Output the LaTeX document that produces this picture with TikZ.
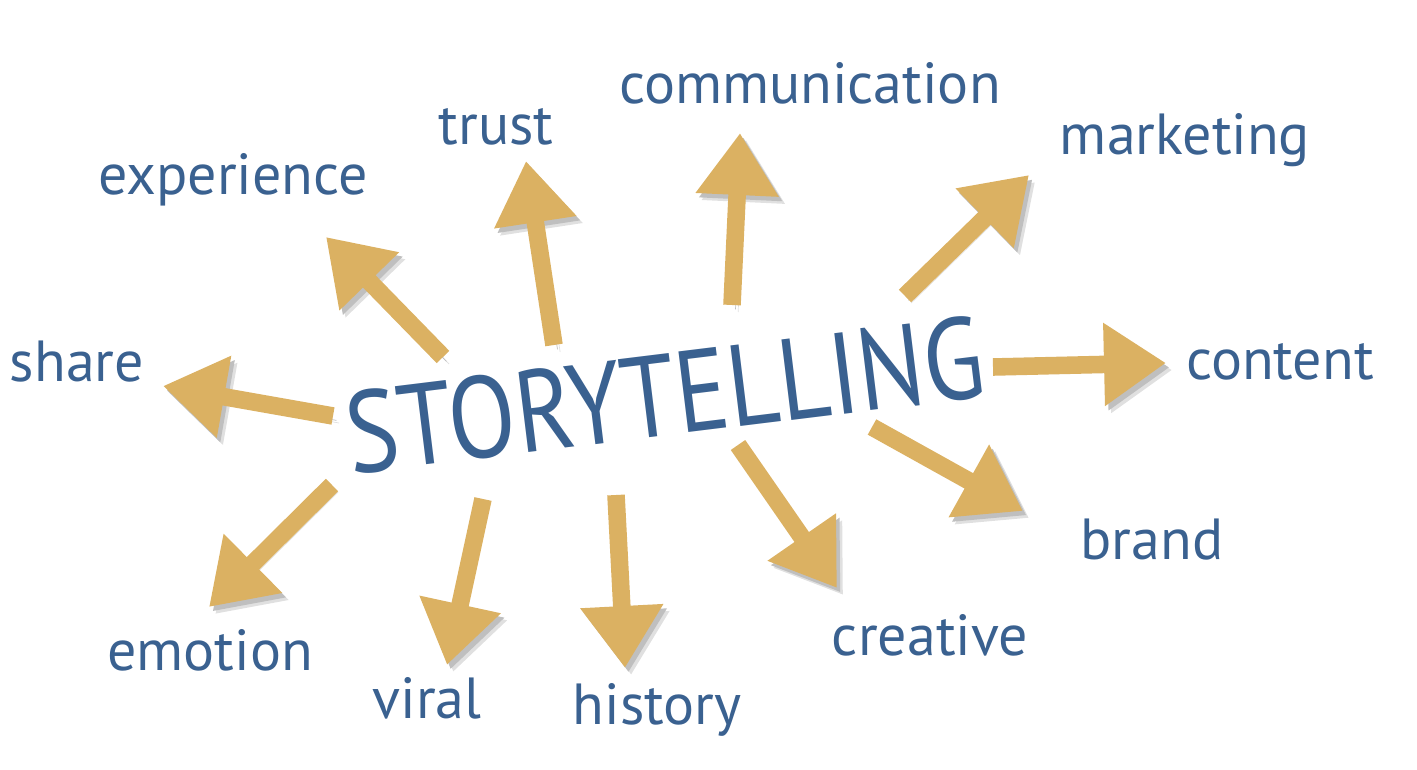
\documentclass[tikz,border=0pt]{standalone}
\usepackage{fontspec}
\setmainfont{PT Sans}
\usetikzlibrary{arrows.meta}
\definecolor{storyblue}{HTML}{3A6190}
\definecolor{arrowgold}{HTML}{DBB162}
\tikzset{
  word/.style={text=storyblue, font=\fontsize{33}{37}\selectfont, inner sep=0pt},
  bigarrow/.style={draw=arrowgold, line width=10pt,
    -{Triangle[length=1.24cm, width=1.58cm]},
    preaction={draw=black!12, transform canvas={shift={(3.5pt,-4pt)}}},
    preaction={draw=black!25, transform canvas={shift={(2pt,-2.5pt)}}}}
}
\begin{document}
\begin{tikzpicture}[x=0.02cm, y=-0.02cm]
	\useasboundingbox (0,0) rectangle (1417,770);
	%\draw[gray!20](0,0)grid[step=50](1417,770);
	\node[word, rotate=7, xscale=0.85, font=\fontsize{66}{70}\selectfont] (story) at (665,395) {STORYTELLING};
	\node[word] (share) at (77,362) {share};
	\node[word] (experience) at (233,180) {experience};
	\node[word] (trust) at (496,127) {trust};
	\node[word] (communication) at (810,83) {communication};
	\node[word] (marketing) at (1185,140) {marketing};
	\node[word] (content) at (1280,362) {content};
	\node[word] (brand) at (1152,540) {brand};
	\node[word] (creative) at (930,635) {creative};
	\node[word] (history) at (657,710) {history};
	\node[word] (viral) at (427,698) {viral};
	\node[word] (emotion) at (210,650) {emotion};
	% arrow ends
	\coordinate (share-a) at (333,416);       \coordinate (share-b) at (163,386);
	\coordinate (experience-a) at (443,357);  \coordinate (experience-b) at (326,237);
	\coordinate (trust-a) at (554,345);       \coordinate (trust-b) at (526,161);
	\coordinate (communication-a) at (732,305); \coordinate (communication-b) at (740,133);
	\coordinate (marketing-a) at (905,296);   \coordinate (marketing-b) at (1029,175);
	\coordinate (content-a) at (993,367);     \coordinate (content-b) at (1166,363);
	\coordinate (brand-a) at (872,427);       \coordinate (brand-b) at (1023,511);
	\coordinate (creative-a) at (738,445);    \coordinate (creative-b) at (837,588);
	\coordinate (history-a) at (616,495);     \coordinate (history-b) at (625,668);
	\coordinate (viral-a) at (483,499);       \coordinate (viral-b) at (447,665);
	\coordinate (emotion-a) at (332,485);     \coordinate (emotion-b) at (209,607);
	\foreach \w in {share,experience,trust,communication,marketing,content,brand,creative,history,viral,emotion}
	\draw[bigarrow] (\w-a) -- (\w-b);
\end{tikzpicture}
\end{document}
